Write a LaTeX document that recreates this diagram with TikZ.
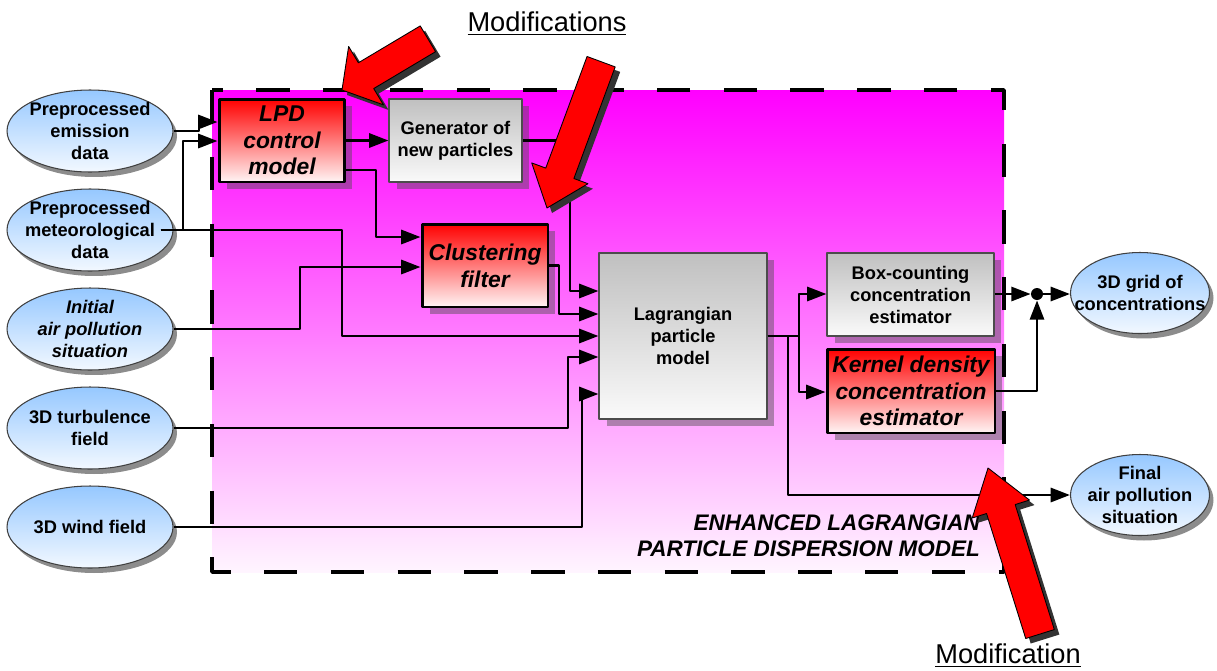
\documentclass[tikz,border=0pt]{standalone}
\usepackage{fontspec}
\setmainfont{Liberation Sans}
\usetikzlibrary{arrows.meta,shapes.geometric,shadows}

\definecolor{skyblue}{RGB}{150,200,255}
\definecolor{paleblue}{RGB}{242,248,255}
\definecolor{boxgray}{RGB}{192,192,192}
\definecolor{darkshade}{RGB}{51,51,51}

\tikzset{
  src/.style={ellipse, draw=black!75, line width=0.6pt, top color=skyblue, bottom color=paleblue,
    minimum width=3.32cm, minimum height=1.64cm, inner sep=0pt,
    drop shadow={shadow xshift=0.08cm, shadow yshift=-0.1cm, fill=black!45, opacity=1}},
  srctext/.style={font=\fontsize{10.4}{12.5}\selectfont\bfseries, align=center, inner sep=0pt},
  srcitalic/.style={srctext, font=\fontsize{10.4}{12.5}\selectfont\bfseries\itshape},
  graybox/.style={rectangle, draw=black!70, line width=0.6pt, top color=boxgray, bottom color=black!2,
    inner sep=0pt, font=\fontsize{10.4}{12.5}\selectfont\bfseries, align=center,
    drop shadow={shadow xshift=0.15cm, shadow yshift=-0.14cm, fill=black!70, opacity=0.45}},
  redbox/.style={graybox, draw=black, line width=1.7pt, top color=red, bottom color=red!4,
    font=\fontsize{13}{15.2}\selectfont\bfseries\itshape},
  link/.style={->, line width=1.6pt},
}

\begin{document}
\begin{tikzpicture}[x=0.02cm, y=-0.02cm, line join=round, >={Triangle[length=11pt,width=8pt]}]
\useasboundingbox (0,0) rectangle (1217,670);

% model area
\shade[top color=magenta, middle color=magenta!58, bottom color=magenta!4] (212,90) rectangle (1004,572);

% inputs
\foreach \nm/\y/\sty/\txt in {emis/131/srctext/{Preprocessed\\emission\\data},
    met/230/srctext/{Preprocessed\\meteorological\\data},
    init/329/srcitalic/{Initial\\air pollution\\situation},
    turb/428/srctext/{3D turbulence\\field},
    wind/527/srctext/{3D wind field}}{
  \node[src] (\nm) at (90,\y) {};
  \node[\sty] (\nm-t) at (\nm) {\txt};
}

% outputs
\node[src, minimum width=2.78cm, minimum height=1.62cm] (conc) at (1140,293) {};
\node[srctext] (conc-t) at (conc) {3D grid of\\concentrations};
\node[src, minimum width=2.78cm, minimum height=1.62cm] (final) at (1140,495) {};
\node[srctext] (final-t) at (final) {Final\\air pollution\\situation};

% blocks
\node[redbox, minimum width=2.52cm, minimum height=1.66cm] (lpd) at (282,140.5) {LPD\\control\\model};
\node[graybox, minimum width=2.66cm, minimum height=1.66cm] (gen) at (455.5,140.5) {Generator of\\new particles};
\node[redbox, minimum width=2.52cm, minimum height=1.66cm] (clus) at (485,265.5) {Clustering\\filter};
\node[graybox, minimum width=3.36cm, minimum height=3.32cm] (lagr) at (683,336) {Lagrangian\\particle\\model};
\node[graybox, minimum width=3.34cm, minimum height=1.66cm] (boxc) at (910.5,294.5) {Box-counting\\concentration\\estimator};
\node[redbox, minimum width=3.36cm, minimum height=1.68cm] (kern) at (911,391) {Kernel density\\concentration\\estimator};
\node[circle, fill=black, minimum size=0.24cm, inner sep=0pt] (dot) at (1037,294) {};

% connections
\draw[link] (emis.east) -| (199,122) -- (lpd.west |- 0,122);
\draw[link] ([xshift=-0.26cm]met.east) -| (183,141) -- (lpd.west |- 0,141);
\draw[link] ([xshift=-0.26cm]met.east) -| (342,336) -- (lagr.west);
\draw[link] (init.east) -| (300,267) -- (clus.west |- 0,267);
\draw[link] (lpd) -- (gen);
\draw[link] (lpd.east |- 0,170) -| (376,237) -- (clus.west |- 0,237);
\draw[link] (gen.east) -| (570,291) -- (lagr.west |- 0,291);
\draw[link] (clus.east) -| (559,314) -- (lagr.west |- 0,314);
\draw[link] (turb.east) -| (568,357) -- (lagr.west |- 0,357);
\draw[link] (wind.east) -| (582,394) -- (lagr.west |- 0,394);
\draw[link] (lagr.east) -| (799,294) -- (boxc.west |- 0,294);
\draw[link] (lagr.east) -| (799,392) -- (kern.west |- 0,392);
\draw[link] (lagr.east) -| (788,495) -- (final.west);
\draw[link] (boxc.east |- 0,294) -- (dot);
\draw[link] (kern.east) -| (dot);
\draw[link] (dot) -- (conc.west |- dot);

% dashed outline
\draw[line width=2pt, dash pattern=on 19pt off 19pt] (212,90) rectangle (1004,572);

\node[font=\fontsize{12.8}{14.8}\selectfont\bfseries\itshape, align=right, anchor=east] (title) at (986,536)
  {ENHANCED LAGRANGIAN\\PARTICLE DISPERSION MODEL};

% pointers
\node[font=\fontsize{15.5}{18}\selectfont] (mods) at (547,24) {\underline{Modifications}};
\node[font=\fontsize{15.5}{18}\selectfont] (mod) at (1008,656) {\underline{Modification}};

\foreach \tx/\ty/\ang/\len/\hl/\hw in {342/90/210.8/100/28/34, 547/208/249.7/156/37/30, 988/468/107.4/174/43/30}{
  \fill[darkshade, shift={(\tx+5,\ty+5)}, rotate=\ang] (0,0) -- (-\hl,\hw) -- (-\hl,15) -- (-\len,15)
    -- (-\len,-15) -- (-\hl,-15) -- (-\hl,-\hw) -- cycle;
  \draw[fill=red, line width=0.5pt, shift={(\tx,\ty)}, rotate=\ang] (0,0) -- (-\hl,\hw) -- (-\hl,15) -- (-\len,15)
    -- (-\len,-15) -- (-\hl,-15) -- (-\hl,-\hw) -- cycle;
}
\end{tikzpicture}
\end{document}
